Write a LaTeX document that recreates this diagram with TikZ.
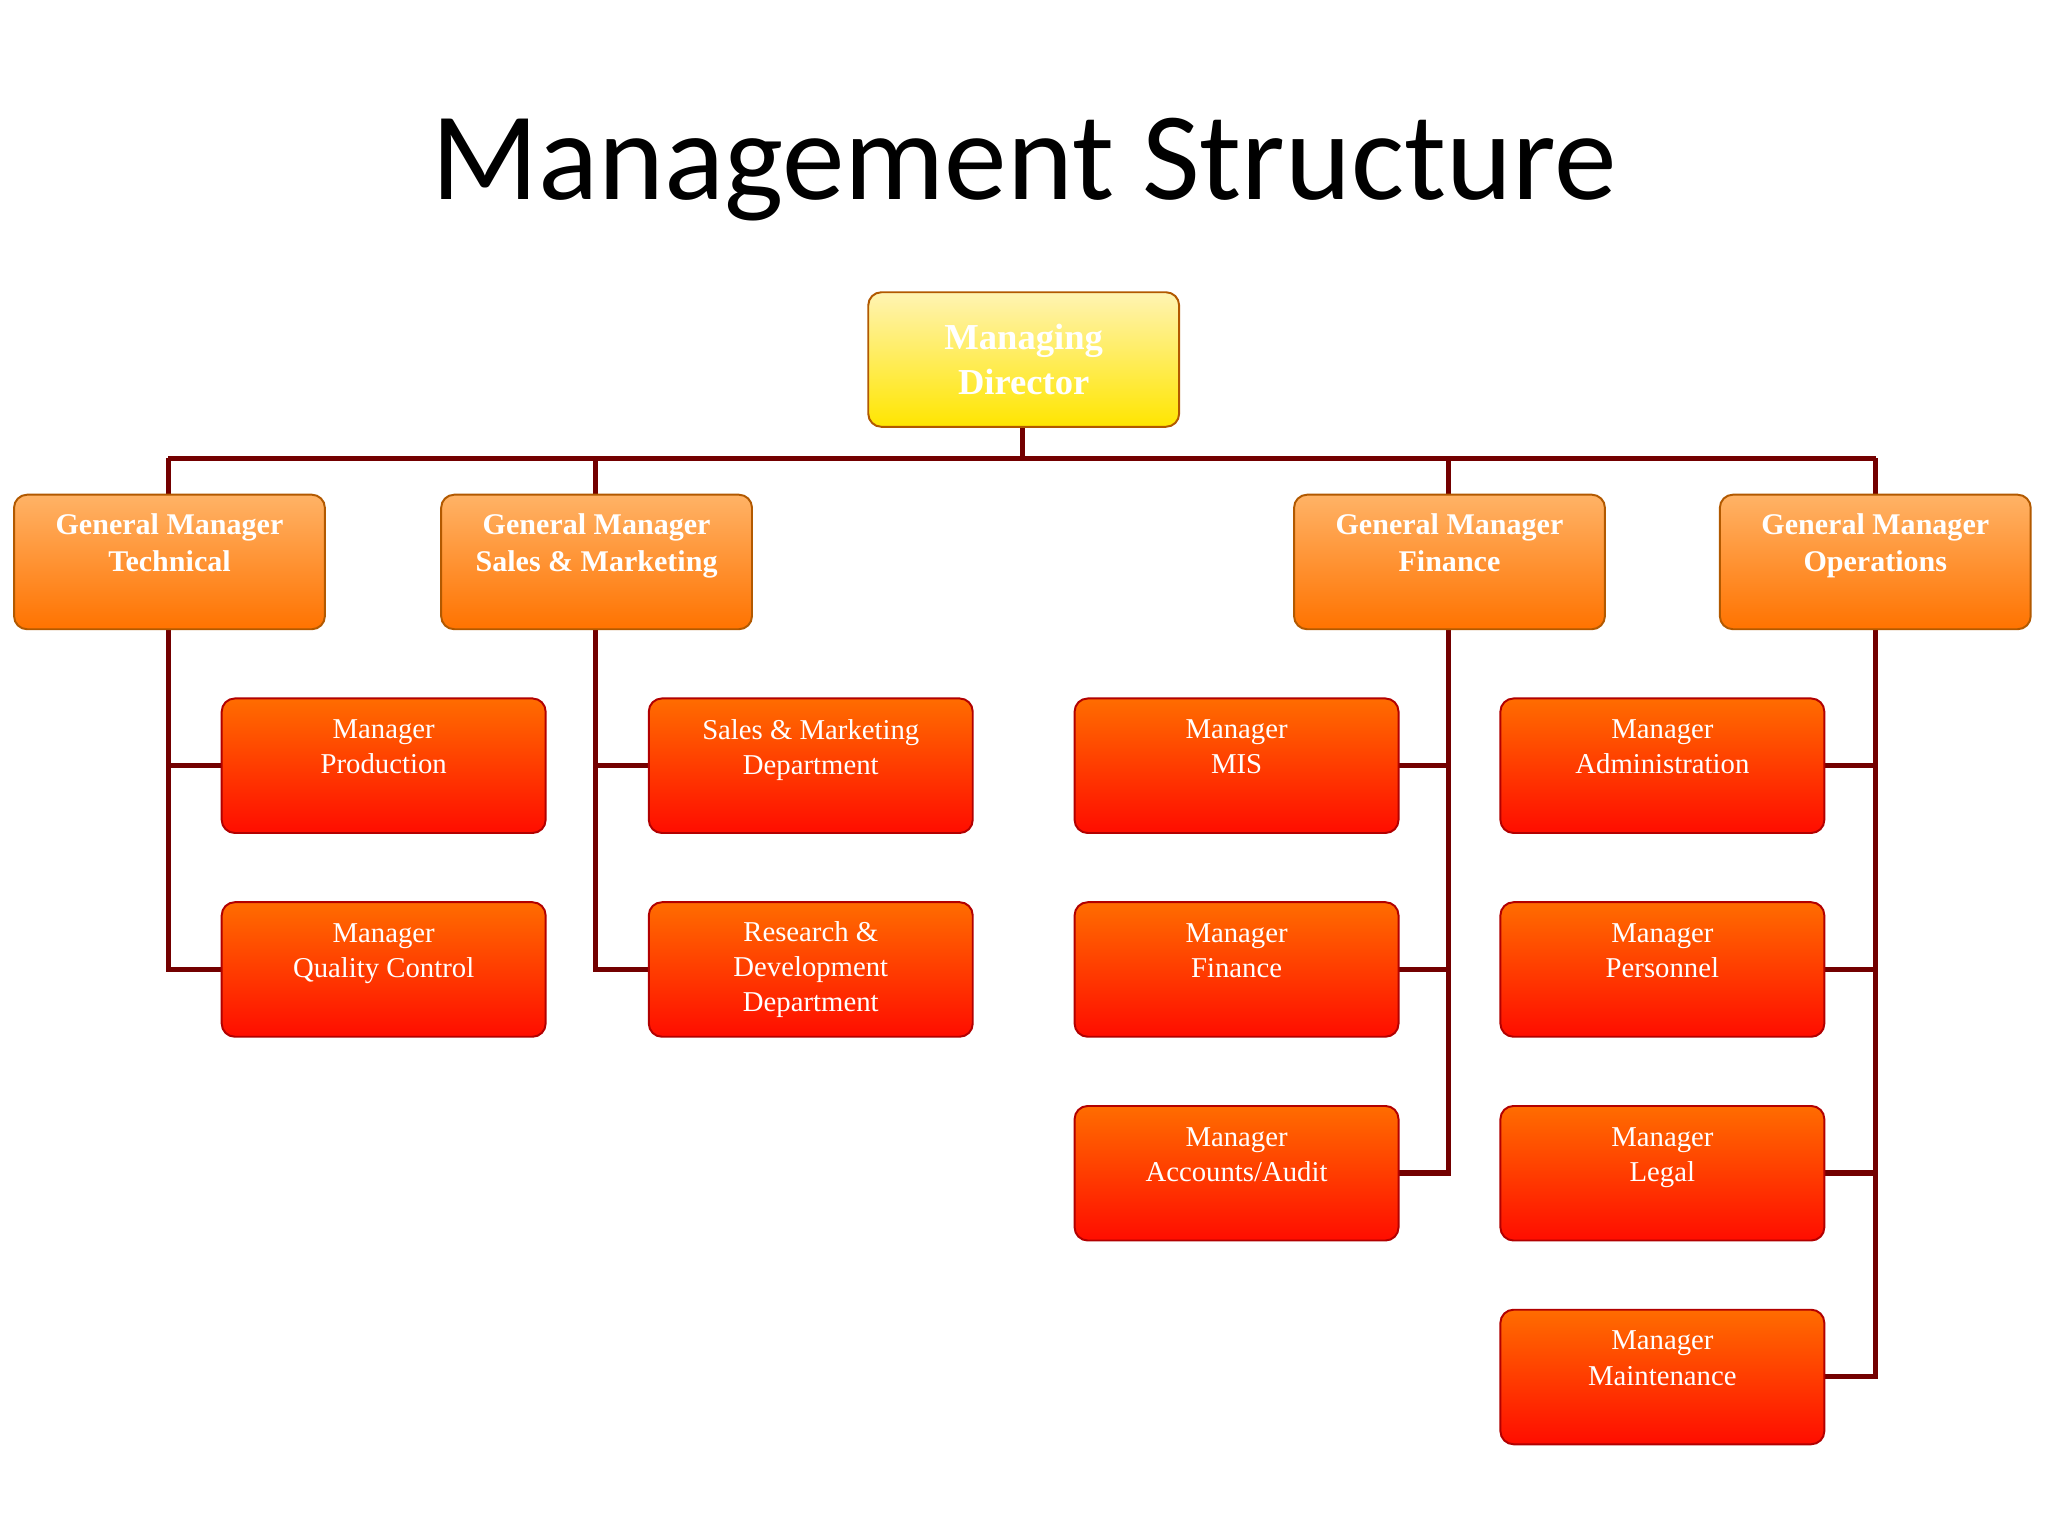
\documentclass[tikz,border=0pt]{standalone}
\usepackage{fontspec}
\setmainfont{Liberation Serif}
\newfontfamily\titlefont{Carlito}
\newcommand\myup{\\[2pt]\mbox{}}
\begin{document}
\begin{tikzpicture}[x=1pt,y=-1pt,
  box/.style={draw=#1!70!black, line width=1.5pt, rounded corners=10pt, minimum width=238pt, minimum height=103pt, anchor=north west, align=center, text=white, inner sep=0pt},
  md/.style={box=orange, top color=yellow!70!orange!30!white, bottom color=yellow!80!orange, minimum width=238pt, font=\bfseries\fontsize{28}{34}\selectfont, text=white},
  gm/.style={box=orange, top color=orange!60!white, bottom color=orange!90!red, font=\bfseries\fontsize{23}{28}\selectfont},
  mg/.style={box=red, minimum width=248pt, top color=orange!85!red, bottom color=red!90!orange, font=\fontsize{22}{27}\selectfont},
  ln/.style={draw=red!45!black, line width=4pt}]
\useasboundingbox (0,0) rectangle (1568,1176);
\fill[white] (0,0) rectangle (1568,1176);
\node[font=\titlefont\fontsize{96}{104}\selectfont] (title) at (784,130) {Management Structure};
% lines
\draw[ln] (129,351) -- (1436,351);
\draw[ln] (783,326) -- (783,351);
\foreach \x in {129,456,1109,1436} \draw[ln] (\x,351) -- (\x,380);
\draw[ln] (129,480) -- (129,742) -- (171,742); \draw[ln] (129,586) -- (171,586);
\draw[ln] (456,480) -- (456,742) -- (498,742); \draw[ln] (456,586) -- (498,586);
\draw[ln] (1109,480) -- (1109,898) -- (1068,898); \draw[ln] (1109,586) -- (1068,586); \draw[ln] (1109,742) -- (1068,742);
\draw[ln] (1436,480) -- (1436,1054) -- (1394,1054); \draw[ln] (1436,586) -- (1394,586); \draw[ln] (1436,742) -- (1394,742); \draw[ln] (1436,898) -- (1394,898);
% nodes
\node[md] (md) at (664,223) {Managing\\Director};
\node[gm] (g1) at (10,378) {General Manager\\Technical\myup};
\node[gm] (g2) at (337,378) {General Manager\\Sales \& Marketing\myup};
\node[gm] (g3) at (990,378) {General Manager\\Finance\myup};
\node[gm] (g4) at (1316,378) {General Manager\\Operations\myup};
\node[mg] (a1) at (169,534) {Manager\\Production\myup};
\node[mg] (a2) at (169,690) {Manager\\Quality Control\myup};
\node[mg] (b1) at (496,534) {Sales \& Marketing\\Department\myup};
\node[mg] (b2) at (496,690) {Research \&\\Development\\Department};
\node[mg] (c1) at (822,534) {Manager\\MIS\myup};
\node[mg] (c2) at (822,690) {Manager\\Finance\myup};
\node[mg] (c3) at (822,846) {Manager\\Accounts/Audit\myup};
\node[mg] (d1) at (1148,534) {Manager\\Administration\myup};
\node[mg] (d2) at (1148,690) {Manager\\Personnel\myup};
\node[mg] (d3) at (1148,846) {Manager\\Legal\myup};
\node[mg] (d4) at (1148,1002) {Manager\\Maintenance\myup};
\end{tikzpicture}
\end{document}
